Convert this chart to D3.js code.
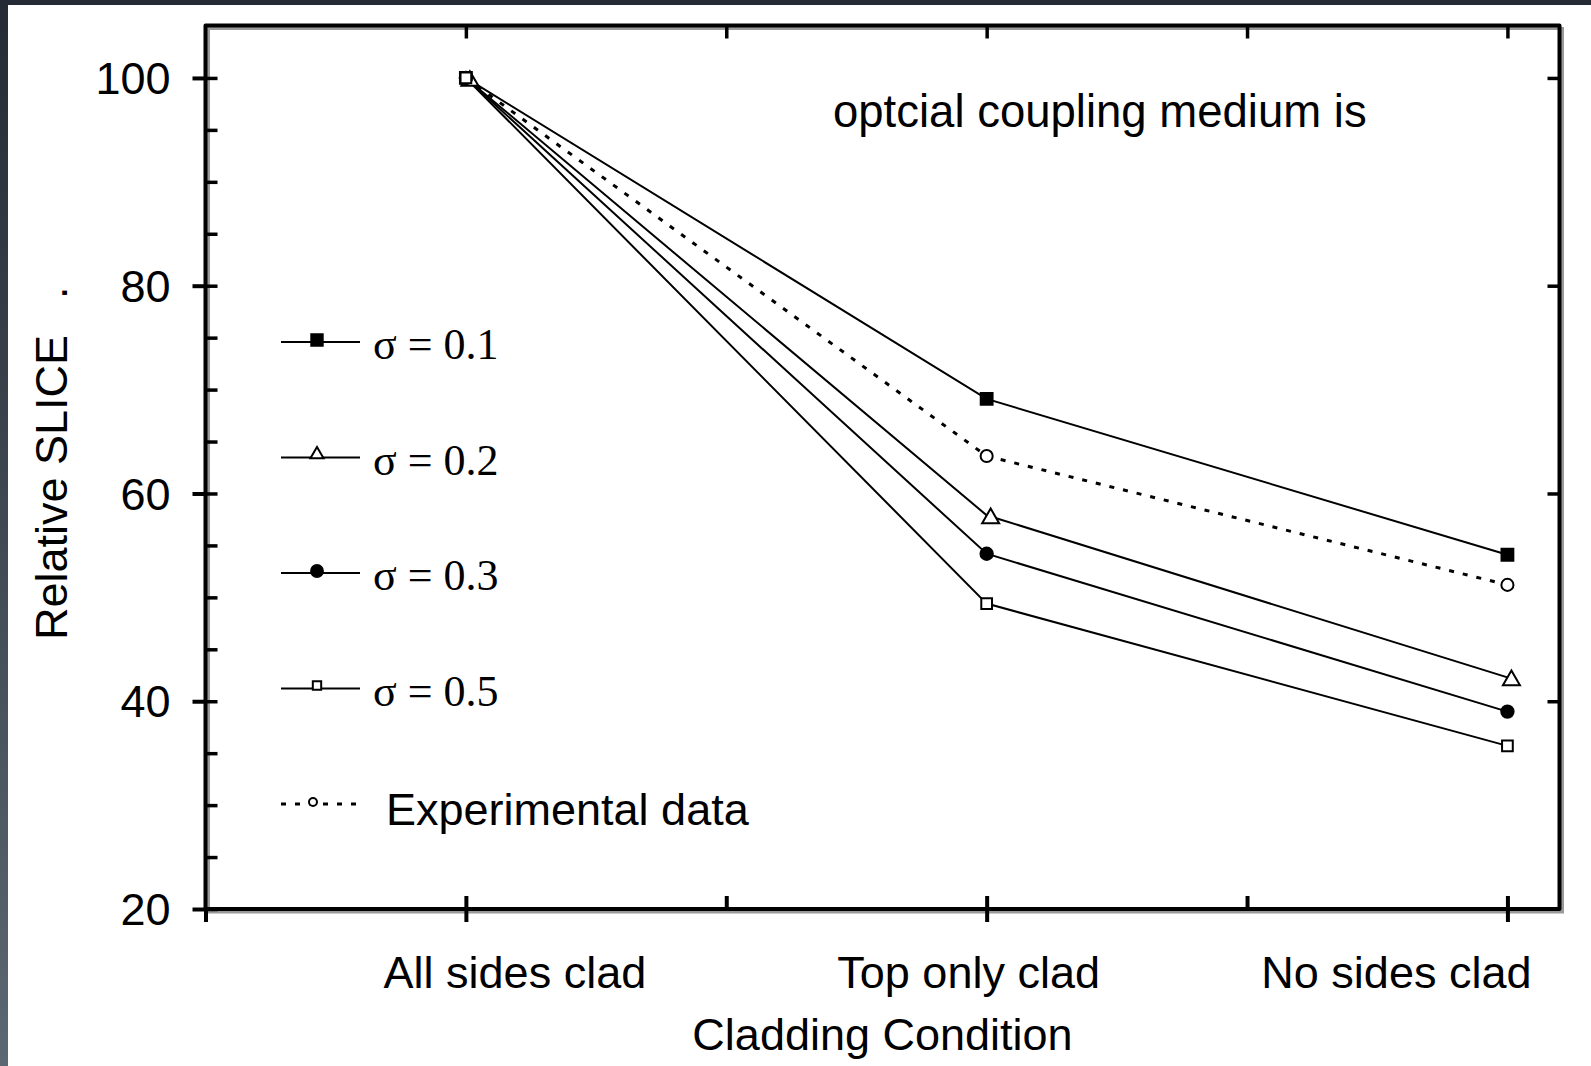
<!DOCTYPE html>
<html>
<head>
<meta charset="utf-8">
<script src="https://cdn.jsdelivr.net/npm/d3@7"></script>
<style>
  html, body { margin: 0; padding: 0; background: #ffffff; }
  svg { display: block; }
</style>
</head>
<body>
<svg id="chart" width="1591" height="1066"></svg>
<script>
// Cladding conditions along the x axis (positions 1, 2, 3)
const categories = ["All sides clad", "Top only clad", "No sides clad"];
const categoryPos = [1, 2, 3];

// Relative SLICE for each optical coupling spread
const sigma01 = [100, 69.1, 54.1];
const sigma02 = [100, 57.9, 42.3];
const sigma03 = [100, 54.2, 39.0];
const sigma05 = [100, 49.4, 35.7];
const experimental = [100, 63.6, 51.2];

const seriesLabels = ["σ = 0.1", "σ = 0.2", "σ = 0.3", "σ = 0.5", "Experimental data"];

const yMajorTicks = [20, 40, 60, 80, 100];
const yMinorTicks = d3.range(20, 105, 5);
const xBottomOuter = [0.5, 1, 2, 3];
const xInnerTicks = [1, 1.5, 2, 2.5, 3];

// ---- layout ----
const W = 1591, H = 1066;
const frame = { left: 205.5, right: 1559.5, top: 25.5, bottom: 909 };
const sans = "'Liberation Sans', Arial, Helvetica, sans-serif";
const serif = "'Liberation Serif', 'Times New Roman', Times, serif";

const svg = d3.select("#chart");

// page background with the dark edge strips
const defs = svg.append("defs");
const grad = defs.append("linearGradient").attr("id", "edge")
  .attr("x1", 0).attr("y1", 0).attr("x2", 0).attr("y2", 1);
grad.append("stop").attr("offset", "0%").attr("stop-color", "#242b34");
grad.append("stop").attr("offset", "100%").attr("stop-color", "#5b6772");
svg.append("rect").attr("width", W).attr("height", H).attr("fill", "#ffffff");
svg.append("rect").attr("x", 0).attr("y", 0).attr("width", 8).attr("height", H).attr("fill", "url(#edge)");
svg.append("rect").attr("x", 0).attr("y", 0).attr("width", W).attr("height", 5).attr("fill", "#242b34");

const x = d3.scaleLinear().domain([0.5, 3.1]).range([frame.left, frame.right]);
const y = d3.scaleLinear().domain([20, 105]).range([frame.bottom, 26]);

// plot frame with a soft grey shadow
svg.append("rect")
  .attr("x", frame.left + 3).attr("y", frame.top + 3)
  .attr("width", frame.right - frame.left).attr("height", frame.bottom - frame.top)
  .attr("fill", "none").attr("stroke", "#9a9a9a").attr("stroke-width", 3);
svg.append("rect")
  .attr("x", frame.left).attr("y", frame.top)
  .attr("width", frame.right - frame.left).attr("height", frame.bottom - frame.top)
  .attr("fill", "none").attr("stroke", "#000").attr("stroke-width", 4)
  .attr("stroke-linejoin", "round");

function styleAxis(g, width) {
  g.select(".domain").remove();
  g.selectAll(".tick line").attr("stroke", "#000").attr("stroke-width", width);
}

// left axis: labelled major ticks poking outward
svg.append("g").attr("transform", `translate(${frame.left},0)`)
  .call(d3.axisLeft(y).tickValues(yMajorTicks).tickSize(13).tickPadding(22).tickFormat(d3.format("d")))
  .call(g => styleAxis(g, 4))
  .call(g => g.selectAll(".tick text")
    .attr("font-family", sans).attr("font-size", 45).attr("fill", "#000").attr("dy", "0.35em"));

// left axis: inward major + minor ticks
svg.append("g").attr("transform", `translate(${frame.left},0)`)
  .call(d3.axisRight(y).tickValues(yMinorTicks).tickSize(12).tickFormat(""))
  .call(g => styleAxis(g, 3.5));

// right axis: inward major ticks
svg.append("g").attr("transform", `translate(${frame.right},0)`)
  .call(d3.axisLeft(y).tickValues(yMajorTicks.slice(1)).tickSize(12).tickFormat(""))
  .call(g => styleAxis(g, 3.5));

// bottom axis: outward ticks at categories and the left edge
svg.append("g").attr("transform", `translate(0,${frame.bottom})`)
  .call(d3.axisBottom(x).tickValues(xBottomOuter).tickSize(13).tickFormat(""))
  .call(g => styleAxis(g, 4));
// bottom axis: inward ticks
svg.append("g").attr("transform", `translate(0,${frame.bottom})`)
  .call(d3.axisTop(x).tickValues(xInnerTicks).tickSize(13).tickFormat(""))
  .call(g => styleAxis(g, 4));
// top axis: inward ticks
svg.append("g").attr("transform", `translate(0,${frame.top})`)
  .call(d3.axisBottom(x).tickValues(xInnerTicks).tickSize(13).tickFormat(""))
  .call(g => styleAxis(g, 3.5));

// category labels sit a little off their ticks
const labelDx = [49, -18, -111];
svg.append("g").selectAll("text").data(categories).join("text")
  .attr("x", (d, i) => x(categoryPos[i]) + labelDx[i])
  .attr("y", 988)
  .attr("text-anchor", "middle")
  .attr("font-family", sans).attr("font-size", 45).attr("fill", "#000")
  .text(d => d);

// axis titles
svg.append("text")
  .attr("x", (frame.left + frame.right) / 2).attr("y", 1050)
  .attr("text-anchor", "middle")
  .attr("font-family", sans).attr("font-size", 45).attr("fill", "#000")
  .text("Cladding Condition");

svg.append("text")
  .attr("transform", "translate(67,640) rotate(-90)")
  .attr("font-family", sans).attr("font-size", 45).attr("fill", "#000")
  .text("Relative SLICE");
svg.append("text")
  .attr("transform", "translate(67,299) rotate(-90)")
  .attr("font-family", sans).attr("font-size", 45).attr("fill", "#000")
  .text(".");

// annotation
svg.append("text")
  .attr("x", 833).attr("y", 127)
  .attr("font-family", sans).attr("font-size", 45.5).attr("fill", "#000")
  .text("optcial coupling medium is");

// ---- series ----
const series = [
  { values: sigma01, symbol: d3.symbolSquare, size: 140, fill: "#000", dash: null, dx: 0, dy: 0 },
  { values: sigma02, symbol: d3.symbolTriangle, size: 125, fill: "#fff", dash: null, dx: 4, dy: 3 },
  { values: sigma03, symbol: d3.symbolCircle, size: 120, fill: "#000", dash: null, dx: 0, dy: 0 },
  { values: sigma05, symbol: d3.symbolSquare, size: 115, fill: "#fff", dash: null, dx: 0, dy: 0 },
  { values: experimental, symbol: d3.symbolCircle, size: 115, fill: "#fff", dash: "5,9", dx: 0, dy: 0 }
];
const drawOrder = [0, 1, 2, 4, 3];

const line = d3.line().x((d, i) => x(categoryPos[i])).y(d => y(d));

const plot = svg.append("g");
series.forEach(s => {
  plot.append("path")
    .attr("d", line(s.values))
    .attr("fill", "none").attr("stroke", "#000")
    .attr("stroke-width", s.dash ? 3 : 2)
    .attr("stroke-dasharray", s.dash);
});
drawOrder.forEach(k => {
  const s = series[k];
  plot.append("g").selectAll("path").data(s.values).join("path")
    .attr("transform", (d, i) => `translate(${x(categoryPos[i]) + s.dx},${y(d) + s.dy})`)
    .attr("d", d3.symbol().type(s.symbol).size(s.size))
    .attr("fill", s.fill).attr("stroke", "#000").attr("stroke-width", 2);
});

// ---- legend ----
const legendY = d3.range(5).map(i => 342 + i * 115.5);
const legendSizes = [130, 75, 110, 70, 50];
const legend = svg.append("g");
series.forEach((s, i) => {
  const ly = legendY[i];
  legend.append("line")
    .attr("x1", 281).attr("x2", i === 4 ? 362 : 360).attr("y1", ly).attr("y2", ly)
    .attr("stroke", "#000").attr("stroke-width", s.dash ? 3 : 2)
    .attr("stroke-dasharray", s.dash);
  legend.append("path")
    .attr("transform", `translate(${i === 4 ? 313 : 317},${s.fill === "#fff" && i !== 4 ? ly - 3 : ly - 2})`)
    .attr("d", d3.symbol().type(s.symbol).size(legendSizes[i]))
    .attr("fill", s.fill).attr("stroke", "#000").attr("stroke-width", 2);
  legend.append("text")
    .attr("x", i === 4 ? 386 : 373)
    .attr("y", ly + (i === 4 ? 21 : 17))
    .attr("font-family", i === 4 ? sans : serif)
    .attr("font-size", i === 4 ? 45 : 44)
    .attr("fill", "#000")
    .text(seriesLabels[i]);
});
</script>
</body>
</html>
